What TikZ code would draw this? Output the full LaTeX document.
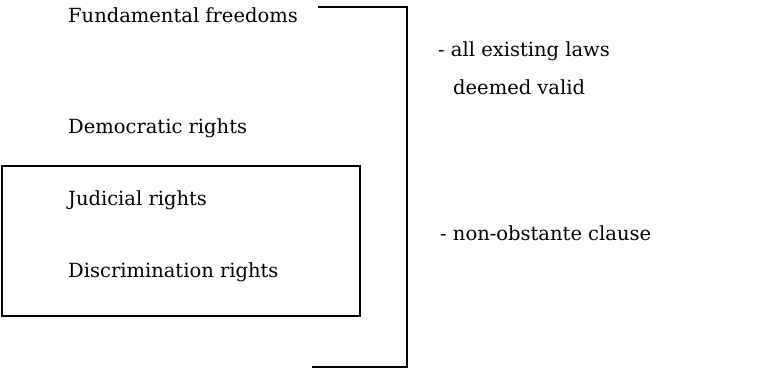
\documentclass[tikz,border=0pt]{standalone}
\usepackage{fontspec}
\setmainfont{DejaVu Serif}
\usetikzlibrary{positioning}

\tikzset{
  item/.style={anchor=west, inner sep=0pt, font=\fontsize{19.5}{23}\selectfont},
  frame/.style={line width=1.2pt},
  brace/.style={line width=2pt}
}

\begin{document}
\begin{tikzpicture}[x=1pt, y=1pt]
	\useasboundingbox (0,0) rectangle (776,368);
	% left column
	\node[item] (fund) at (68,353) {Fundamental freedoms};
	\node[item] (demo) at (68,240) {Democratic rights};
	\node[item] (judi) at (68,168) {Judicial rights};
	\node[item] (disc) at (68,96) {Discrimination rights};
	\draw[frame] (2,52) rectangle (360,202);
	% bracket
	\coordinate (btop) at (318,361);
	\coordinate (bbot) at (312,1);
	\draw[brace] (btop) -- (407,361) -- (407,1) -- (bbot);
	% right column
	\node[item] (laws) at (438,317) {- all existing laws};
	\node[item] (valid) at (453,281) {deemed valid};
	\node[item] (nonob) at (440,135) {- non-obstante clause};
\end{tikzpicture}
\end{document}
